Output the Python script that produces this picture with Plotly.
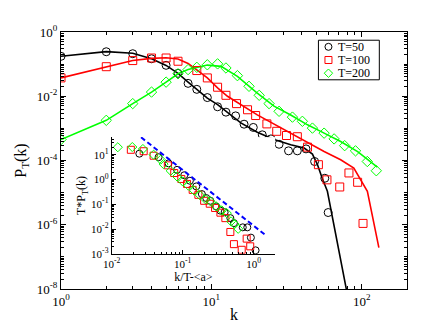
import plotly.graph_objects as go

# main panel: P_T(k) vs k
K_T50 = [1, 2, 3, 4, 5, 6, 7, 8, 9.4, 11, 12.5, 14.5, 16.5, 19, 21.8, 24.9, 28.2, 32.6, 37.3, 42.6, 48.6, 56.8, 59.8]
P_T50 = [0.175, 0.243, 0.211, 0.147, 0.0918, 0.0516, 0.0252, 0.0164, 0.0091, 0.0047, 0.0032, 0.00245, 0.00135,
         0.00107, 6.3e-4, 4.7e-4, 3.2e-4, 2.0e-4, 2.0e-4, 2.3e-4, 9.3e-5, 2.8e-5, 2.4e-6]
K_T50_LINE = [1, 2, 3, 4, 5, 6, 7, 8, 9.4, 11, 15.7, 20.2, 26.1, 33.7, 41.4, 47, 50.8, 54.6, 59.1, 82]
P_T50_LINE = [0.175, 0.245, 0.219, 0.148, 0.0912, 0.0513, 0.0275, 0.0162, 0.0087, 0.0055, 0.00148, 7.6e-4,
              4.5e-4, 3.1e-4, 2.45e-4, 1.58e-4, 7.4e-5, 2.8e-5, 1.1e-5, 4e-9]

K_T100 = [1, 2, 3, 4, 5, 6, 8, 9.4, 11, 12.5, 14.7, 17.4, 19.7, 23.4, 27.2, 31.6, 37.3, 43.6, 51.5, 58.7, 71.4,
          82.2, 93.9, 102]
P_T100 = [0.0372, 0.0832, 0.129, 0.155, 0.155, 0.123, 0.0631, 0.0372, 0.0191, 0.0107, 0.0059, 0.0038, 0.00251,
          0.00138, 8.1e-4, 6.0e-4, 5.5e-4, 2.6e-4, 7.4e-5, 2.5e-5, 1.5e-5, 4.1e-5, 2.1e-5, 1.1e-6]
K_T100_LINE = [1, 2, 3, 4, 5, 6, 7, 8, 9.4, 11, 12.8, 20.2, 26.1, 33.7, 43.6, 56.2, 72.4, 88.6, 109, 130]
P_T100_LINE = [0.0372, 0.0832, 0.129, 0.151, 0.158, 0.145, 0.105, 0.066, 0.0372, 0.0182, 0.01, 0.00263, 0.00135,
               7.1e-4, 3.5e-4, 1.9e-4, 1.05e-4, 5.8e-5, 1.1e-5, 1.95e-7]

K_T200 = [1, 2, 3, 4, 5, 6, 7, 8, 9.4, 11, 12.5, 14.9, 17.8, 20.8, 24.2, 28.2, 34.6, 40.3, 47, 56.2, 65.5, 77,
          90.9, 108.9, 125]
P_T200 = [4.5e-4, 1.78e-3, 5.9e-3, 0.0135, 0.0275, 0.0501, 0.0676, 0.0794, 0.0955, 0.102, 0.0759, 0.0437, 0.0204,
          0.0107, 0.0059, 0.0034, 0.00224, 0.00166, 0.00102, 7.1e-4, 4.7e-4, 2.9e-4, 2.0e-4, 9.3e-5, 4.8e-5]
K_T200_LINE = [1, 2, 3, 4, 5, 6, 7, 8, 9.4, 11.6, 14.9, 20.2, 26.1, 33.7, 43.6, 56.2, 72.4, 93.9, 127]
P_T200_LINE = [4.5e-4, 1.78e-3, 5.9e-3, 0.0135, 0.0275, 0.0501, 0.0676, 0.0794, 0.0933, 0.0851, 0.0417, 0.0126,
               0.0049, 0.0026, 0.00129, 7.1e-4, 3.9e-4, 1.9e-4, 6.2e-5]

# inset: T*P_T(k) vs k/T-<a>
X_IN_T50 = [0.0245, 0.0457, 0.0631, 0.0832, 0.105, 0.126, 0.155, 0.186, 0.214, 0.245, 0.295, 0.339, 0.389, 0.468,
            0.525, 0.70, 0.81, 0.91, 1.06]
Y_IN_T50 = [11.0, 7.94, 4.47, 2.45, 1.48, 0.89, 0.525, 0.257, 0.178, 0.138, 0.0813, 0.055, 0.0479, 0.0275, 0.0174,
            0.0117, 0.0117, 0.0045, 0.00138]
X_IN_T100 = [0.0186, 0.0282, 0.0389, 0.0617, 0.0759, 0.0955, 0.115, 0.138, 0.166, 0.20, 0.24, 0.285, 0.339, 0.398,
             0.468, 0.525, 0.676, 0.794, 0.891]
Y_IN_T100 = [15.8, 13.8, 9.12, 3.72, 1.82, 1.05, 0.661, 0.38, 0.24, 0.138, 0.105, 0.0708, 0.0457, 0.0275, 0.0076,
             0.00245, 0.00145, 0.0041, 0.002]
X_IN_T200 = [0.0122, 0.0195, 0.0275, 0.0389, 0.049, 0.0537, 0.0676, 0.0832, 0.10, 0.120, 0.145, 0.174, 0.209, 0.245,
             0.295, 0.355, 0.417, 0.479, 0.537, 0.603]
Y_IN_T200 = [20.0, 20.4, 17.0, 10.0, 6.31, 4.17, 2.24, 1.32, 0.832, 0.562, 0.355, 0.234, 0.158, 0.132, 0.0832,
             0.0562, 0.0437, 0.0204, 0.0158, 0.0102]
X_IN_FIT = [0.0259, 1.44]
Y_IN_FIT = [50.5, 0.00589]

LEGEND_LABELS = ["T=50", "T=100", "T=200"]

SERIES = [
    (K_T50, P_T50, K_T50_LINE, P_T50_LINE, X_IN_T50, Y_IN_T50, "black", "circle-open"),
    (K_T100, P_T100, K_T100_LINE, P_T100_LINE, X_IN_T100, Y_IN_T100, "#ff0000", "square-open"),
    (K_T200, P_T200, K_T200_LINE, P_T200_LINE, X_IN_T200, Y_IN_T200, "#00ff00", "diamond-open"),
]

FONT = "Liberation Serif"


def sup_labels(exps):
    return ["10<sup>%d</sup>" % e for e in exps]


fig = go.Figure()

for k, p, kl, pl, xi, yi, color, symbol in SERIES:
    fig.add_trace(go.Scatter(x=kl, y=pl, mode="lines", line=dict(color=color, width=1.6),
                             showlegend=False, xaxis="x", yaxis="y"))
for k, p, kl, pl, xi, yi, color, symbol in SERIES:
    fig.add_trace(go.Scatter(x=k, y=p, mode="markers", showlegend=False,
                             marker=dict(symbol=symbol, size=8, color=color, line=dict(width=1, color=color)),
                             xaxis="x", yaxis="y"))

# inset
for k, p, kl, pl, xi, yi, color, symbol in SERIES:
    fig.add_trace(go.Scatter(x=xi, y=yi, mode="markers", showlegend=False,
                             marker=dict(symbol=symbol, size=7, color=color, line=dict(width=1, color=color)),
                             xaxis="x2", yaxis="y2"))
fig.add_trace(go.Scatter(x=X_IN_FIT, y=Y_IN_FIT, mode="lines", showlegend=False,
                         line=dict(color="#0000ff", width=2, dash="5px,3px"), xaxis="x2", yaxis="y2"))

# legend box drawn by hand (xmgrace style, compact)
lx0, lx1, ly0, ly1 = 0.744, 0.920, 0.814, 0.968
fig.add_shape(type="rect", xref="paper", yref="paper", x0=lx0, x1=lx1, y0=ly0, y1=ly1,
              line=dict(color="black", width=1), fillcolor="white", layer="above")
hx, hy = 3.5 / 346, 3.5 / 257
mx = 0.773
for i, (label, s) in enumerate(zip(LEGEND_LABELS, SERIES)):
    cy = ly1 - (i + 0.5) * (ly1 - ly0) / 3
    color = s[6]
    if i == 0:
        fig.add_shape(type="circle", xref="paper", yref="paper", x0=mx - hx, x1=mx + hx, y0=cy - hy, y1=cy + hy,
                      line=dict(color=color, width=1), layer="above")
    elif i == 1:
        fig.add_shape(type="rect", xref="paper", yref="paper", x0=mx - hx, x1=mx + hx, y0=cy - hy, y1=cy + hy,
                      line=dict(color=color, width=1), layer="above")
    else:
        fig.add_shape(type="path", xref="paper", yref="paper",
                      path="M %f,%f L %f,%f L %f,%f L %f,%f Z" % (mx - hx * 1.2, cy, mx, cy + hy * 1.2,
                                                               mx + hx * 1.2, cy, mx, cy - hy * 1.2),
                      line=dict(color=color, width=1), layer="above")
    fig.add_annotation(x=0.797, y=cy, xref="paper", yref="paper", text=label, showarrow=False,
                       xanchor="left", yanchor="middle", borderpad=0,
                       font=dict(family=FONT, size=12, color="black"))

# main x-axis title, placed like the original
fig.add_annotation(x=0.5, y=-0.101, xref="paper", yref="paper", text="k", showarrow=False,
                   xanchor="center", yanchor="middle", font=dict(family=FONT, size=16, color="black"))

main_y_exps = [0, -2, -4, -6, -8]
fig.update_layout(
    width=423, height=327,
    margin=dict(l=53, r=24, t=24, b=46),
    paper_bgcolor="white", plot_bgcolor="white",
    font=dict(family=FONT, color="black", size=13),
    showlegend=False,
    xaxis=dict(type="log", range=[0, 2.301], domain=[0, 1],
               tickmode="array", tickvals=[1, 10, 100], ticktext=sup_labels([0, 1, 2]),
               ticks="inside", ticklen=5, tickcolor="black", showline=True, linecolor="black", linewidth=1.2,
               mirror="ticks", showgrid=False, zeroline=False,
               minor=dict(ticks="inside", ticklen=3, dtick="D1", tickcolor="black", showgrid=False)),
    yaxis=dict(type="log", range=[-8, 0], domain=[0, 1],
               tickmode="array", tickvals=[10.0 ** e for e in main_y_exps],
               ticktext=sup_labels(main_y_exps),
               ticks="inside", ticklen=5, tickcolor="black", showline=True, linecolor="black", linewidth=1.2,
               mirror="ticks", showgrid=False, zeroline=False,
               minor=dict(ticks="inside", ticklen=3, dtick="D1", tickcolor="black", showgrid=False),
               title=dict(text="P<sub>T</sub>(k)", font=dict(size=16), standoff=6)),
    xaxis2=dict(type="log", range=[-2, 0.301], domain=[0.1465, 0.619], anchor="y2",
                tickmode="array", tickvals=[0.01, 0.1, 1], ticktext=sup_labels([-2, -1, 0]),
                tickfont=dict(size=11),
                ticks="inside", ticklen=4, tickcolor="black", showline=True, linecolor="black", linewidth=1,
                showgrid=False, zeroline=False,
                minor=dict(ticks="inside", ticklen=2, dtick="D1", tickcolor="black", showgrid=False),
                title=dict(text="k/T-&lt;a&gt;", font=dict(size=12), standoff=1)),
    yaxis2=dict(type="log", range=[-3, 1.71], domain=[0.137, 0.591], anchor="x2",
                tickmode="array", tickvals=[1e-3, 1e-2, 1e-1, 1, 10], ticktext=sup_labels([-3, -2, -1, 0, 1]),
                tickfont=dict(size=11),
                ticks="inside", ticklen=4, tickcolor="black", showline=True, linecolor="black", linewidth=1,
                showgrid=False, zeroline=False,
                minor=dict(ticks="inside", ticklen=2, dtick="D1", tickcolor="black", showgrid=False),
                title=dict(text="T*P<sub>T</sub>(k)", font=dict(size=12), standoff=2)),
)

fig.write_html("out.html")
